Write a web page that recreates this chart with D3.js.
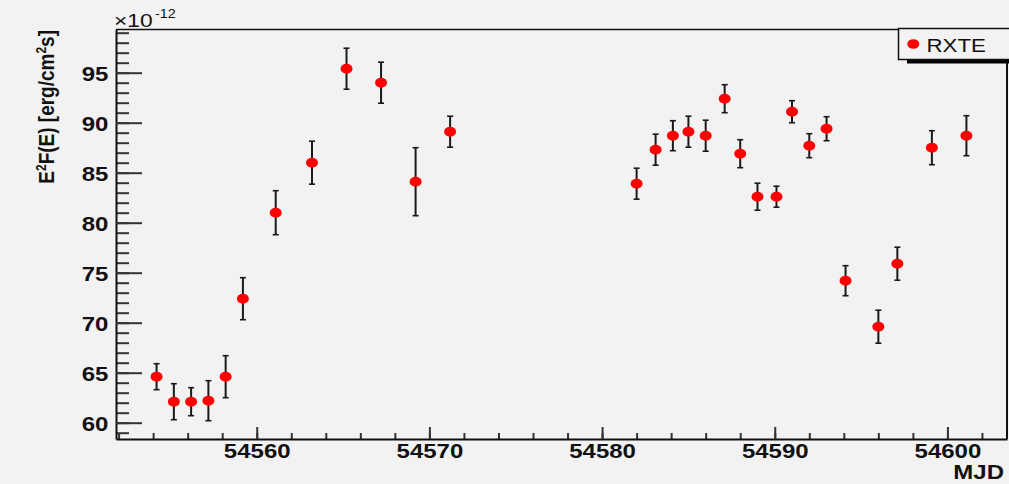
<!DOCTYPE html>
<html>
<head>
<meta charset="utf-8">
<script src="https://cdn.jsdelivr.net/npm/d3@7"></script>
<style>
  body { margin: 0; background: #f2f2f2; }
  svg { display: block; font-family: "Liberation Sans", Arial, Helvetica, sans-serif; }
</style>
</head>
<body>
<script>
var w = 1009;
var h = 484;

// MJD of each RXTE point, E^2F(E) in units of 1e-12 erg/cm2/s, and its error
var mjd  = [54554.2, 54555.2, 54556.2, 54557.2, 54558.2, 54559.2, 54561.1, 54563.2,
            54565.2, 54567.2, 54569.2, 54571.2, 54582.0, 54583.1, 54584.1, 54585.0,
            54586.0, 54587.1, 54588.0, 54589.0, 54590.1, 54591.0, 54592.0, 54593.0,
            54594.1, 54596.0, 54597.1, 54599.1, 54601.1];
var flux = [64.6, 62.1, 62.1, 62.2, 64.6, 72.4, 81.0, 86.0,
            95.4, 94.0, 84.1, 89.1, 83.9, 87.3, 88.7, 89.1,
            88.7, 92.4, 86.9, 82.6, 82.6, 91.1, 87.7, 89.4,
            74.2, 69.6, 75.9, 87.5, 88.7];
var err  = [1.3, 1.8, 1.4, 2.0, 2.1, 2.1, 2.2, 2.15,
            2.05, 2.05, 3.4, 1.55, 1.55, 1.55, 1.5, 1.55,
            1.55, 1.4, 1.4, 1.35, 1.05, 1.1, 1.2, 1.2,
            1.5, 1.65, 1.65, 1.7, 2.0];

var xMajor = [54560, 54570, 54580, 54590, 54600];
var yMajor = [60, 65, 70, 75, 80, 85, 90, 95];

var frame = {left: 116, right: 1007, top: 29.5, bottom: 439};
var stretch = 1.2; // the picture is wider than tall, text is stretched

var svg = d3.select("body").append("svg")
    .attr("width", w)
    .attr("height", h);

var x = d3.scaleLinear().domain([54551.85, 54603.45]).range([frame.left, frame.right]);
var y = d3.scaleLinear().domain([58.37, 99.32]).range([frame.bottom, frame.top]);

// minor ticks
svg.append("g")
    .attr("transform", "translate(" + frame.left + ",0)")
    .call(d3.axisLeft(y).tickValues(d3.range(59, 100, 1)).tickSize(-13).tickSizeOuter(0).tickFormat(""))
    .call(function(g) { g.select(".domain").remove(); });
svg.append("g")
    .attr("transform", "translate(0," + frame.bottom + ")")
    .call(d3.axisBottom(x).tickValues(d3.range(54552, 54604, 2)).tickSize(-6).tickSizeOuter(0).tickFormat(""))
    .call(function(g) { g.select(".domain").remove(); });

// major ticks with labels
var yAxis = svg.append("g")
    .attr("transform", "translate(" + frame.left + ",0)")
    .call(d3.axisLeft(y).tickValues(yMajor).tickSize(-26).tickSizeOuter(0).tickPadding(6.4));
yAxis.selectAll("text").attr("dy", "0.4em");

var xAxis = svg.append("g")
    .attr("transform", "translate(0," + frame.bottom + ")")
    .call(d3.axisBottom(x).tickValues(xMajor).tickSize(-12).tickSizeOuter(0).tickPadding(5)
        .tickFormat(d3.format("d")));

svg.selectAll(".tick line").attr("stroke", "#333").attr("stroke-width", 2);
svg.selectAll(".domain").attr("stroke", "#111").attr("stroke-width", 2);
svg.selectAll(".tick text")
    .attr("fill", "#111")
    .attr("font-size", 20)
    .attr("font-weight", "bold")
    .attr("font-family", "'Liberation Sans', Arial, sans-serif")
    .attr("transform", "scale(" + stretch + ",1)");

// top and right side of the frame
svg.append("line")
    .attr("x1", frame.left).attr("x2", frame.right)
    .attr("y1", frame.top).attr("y2", frame.top)
    .attr("stroke", "#111").attr("stroke-width", 1.5);
svg.append("line")
    .attr("x1", frame.right).attr("x2", frame.right)
    .attr("y1", frame.top).attr("y2", frame.bottom)
    .attr("stroke", "#111").attr("stroke-width", 2);

// points
var pts = d3.range(mjd.length).map(function(i) {
    return {t: mjd[i], f: flux[i], e: err[i]};
});

var bars = svg.selectAll(".bar")
    .data(pts)
    .enter().append("g")
    .attr("class", "bar")
    .attr("stroke", "#1a1a1a")
    .attr("stroke-width", 2);
bars.append("line")
    .attr("x1", function(d) { return x(d.t); })
    .attr("x2", function(d) { return x(d.t); })
    .attr("y1", function(d) { return y(d.f - d.e); })
    .attr("y2", function(d) { return y(d.f + d.e); });
bars.append("line")
    .attr("stroke-width", 1.6)
    .attr("x1", function(d) { return x(d.t) - 3; })
    .attr("x2", function(d) { return x(d.t) + 3; })
    .attr("y1", function(d) { return y(d.f + d.e); })
    .attr("y2", function(d) { return y(d.f + d.e); });
bars.append("line")
    .attr("stroke-width", 1.6)
    .attr("x1", function(d) { return x(d.t) - 3; })
    .attr("x2", function(d) { return x(d.t) + 3; })
    .attr("y1", function(d) { return y(d.f - d.e); })
    .attr("y2", function(d) { return y(d.f - d.e); });

svg.selectAll(".pt")
    .data(pts)
    .enter().append("ellipse")
    .attr("class", "pt")
    .attr("cx", function(d) { return x(d.t); })
    .attr("cy", function(d) { return y(d.f); })
    .attr("rx", 6)
    .attr("ry", 5)
    .attr("fill", "#ff0000");

// exponent
var expo = svg.append("text")
    .attr("transform", "translate(114,26.7) scale(" + stretch + ",1)")
    .attr("font-size", 19)
    .attr("fill", "#111");
expo.append("tspan").text("\u00d710");
expo.append("tspan").attr("dy", -8.4).attr("dx", 2).attr("font-size", 12).text("-12");

// axis titles
var yt = svg.append("text")
    .attr("transform", "translate(54,30) scale(" + stretch + ",1) rotate(-90)")
    .attr("text-anchor", "end")
    .attr("font-size", 19)
    .attr("font-weight", "bold")
    .attr("fill", "#111");
yt.append("tspan").text("E");
yt.append("tspan").attr("dy", -7).attr("font-size", 12).text("2");
yt.append("tspan").attr("dy", 7).text("F(E) [erg/cm");
yt.append("tspan").attr("dy", -7).attr("font-size", 12).text("2");
yt.append("tspan").attr("dy", 7).text("s]");

svg.append("text")
    .attr("transform", "translate(1004,479) scale(" + stretch + ",1)")
    .attr("text-anchor", "end")
    .attr("font-size", 20)
    .attr("font-weight", "bold")
    .attr("fill", "#111")
    .text("MJD");

// legend
svg.append("rect")
    .attr("x", 907).attr("y", 59).attr("width", 110).attr("height", 4.5)
    .attr("fill", "#000");
svg.append("rect")
    .attr("x", 898.5).attr("y", 28.5).attr("width", 120).attr("height", 31)
    .attr("fill", "#f2f2f2")
    .attr("stroke", "#111").attr("stroke-width", 1.5);
svg.append("ellipse")
    .attr("cx", 913.3).attr("cy", 44)
    .attr("rx", 6).attr("ry", 4.8)
    .attr("fill", "#ff0000");
svg.append("text")
    .attr("transform", "translate(926.5,51.7) scale(" + stretch + ",1)")
    .attr("font-size", 18.6)
    .attr("fill", "#111")
    .text("RXTE");
</script>
</body>
</html>
